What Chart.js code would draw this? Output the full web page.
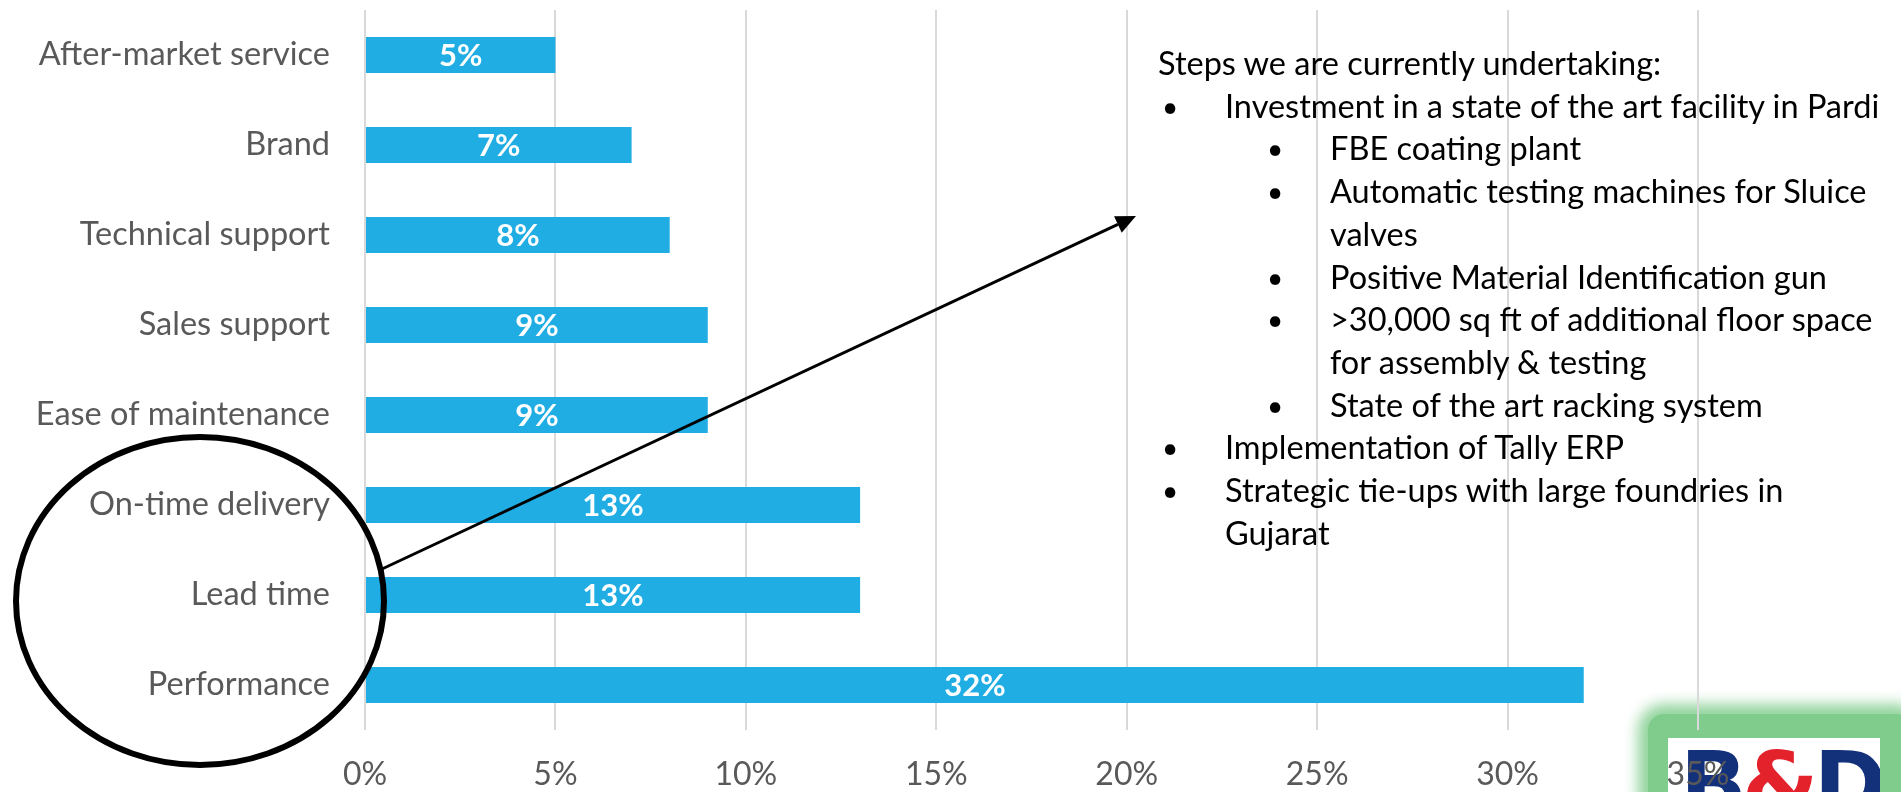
<!DOCTYPE html>
<html>
<head>
<meta charset="utf-8">
<script src="https://cdn.jsdelivr.net/npm/chart.js@4.4.1/dist/chart.umd.min.js"></script>
<style>
  html, body { margin: 0; padding: 0; background: #fff; width: 1901px; height: 792px; overflow: hidden; }
  #wrap { position: relative; width: 1901px; height: 792px; }
  #chart { position: absolute; left: 0; top: 0; z-index: 2; }
  #notes { position: absolute; left: 1158px; top: 42px; z-index: 3; font-family: Lato, "Open Sans", sans-serif;
           font-size: 32.5px; line-height: 42.7px; color: #000; white-space: nowrap; }
  #notes .l1, #notes .l2 { position: relative; }
  #notes .l1 { padding-left: 67px; }
  #notes .l2 { padding-left: 172px; }
  #notes .b { position: absolute; font-size: 28px; }
  #notes .l1 .b { left: 4px; }
  #notes .l2 .b { left: 109px; }
  #logo { position: absolute; left: 1648px; top: 714px; width: 264px; height: 100px; z-index: 1;
          background: #7fcc8c; box-shadow: 0 0 14px 10px rgba(127,204,140,0.85); border-radius: 16px; }
  #logo .inner { position: absolute; left: 20px; top: 24px; width: 212px; height: 80px; background: #fff; overflow: hidden; }
  #logo .txt { position: absolute; left: 12px; top: 2px; font-family: "DejaVu Sans", sans-serif; font-weight: 900;
               font-size: 88px; letter-spacing: -5px; color: #13307a; line-height: 1; }
  #logo .amp { color: #e4222b; }
</style>
</head>
<body>
<div id="wrap">
  <div id="logo"><div class="inner"><div class="txt">B<span class="amp">&amp;</span>D</div></div></div>
  <canvas id="chart" width="1901" height="792"></canvas>
  <div id="notes"></div>
</div>
<script>
// ---- data ----
const categories = ["After-market service", "Brand", "Technical support", "Sales support",
                    "Ease of maintenance", "On-time delivery", "Lead time", "Performance"];
const shareValues = [5, 7, 8, 9, 9, 13, 13, 32];
const xTickValues = [0, 5, 10, 15, 20, 25, 30, 35];
const noteTitle = "Steps we are currently undertaking:";
const noteItems = [
  [1, "Investment in a state of the art facility in Pardi"],
  [2, "FBE coating plant"],
  [2, "Automatic testing machines for Sluice<br>valves"],
  [2, "Positive Material Identification gun"],
  [2, "&gt;30,000 sq ft of additional floor space<br>for assembly &amp; testing"],
  [2, "State of the art racking system"],
  [1, "Implementation of Tally ERP"],
  [1, "Strategic tie-ups with large foundries in<br>Gujarat"]
];

// ---- notes text ----
const notes = document.getElementById('notes');
let html = '<div>' + noteTitle + '</div>';
for (const [lvl, txt] of noteItems) {
  html += '<div class="l' + lvl + '"><span class="b">\u2022</span>' + txt + '</div>';
}
notes.innerHTML = html;

const FONT = "Lato, 'Open Sans', sans-serif";

const valueLabels = {
  id: 'valueLabels',
  afterDatasetsDraw(chart) {
    const ctx = chart.ctx;
    const meta = chart.getDatasetMeta(0);
    ctx.save();
    ctx.fillStyle = '#ffffff';
    ctx.font = "bold 31px " + FONT;
    ctx.textAlign = 'center';
    ctx.textBaseline = 'middle';
    meta.data.forEach((bar, i) => {
      const cx = (bar.x + bar.base) / 2;
      ctx.fillText(shareValues[i] + '%', cx, bar.y + 1);
    });
    ctx.restore();
  }
};

const callout = {
  id: 'callout',
  afterDraw(chart) {
    const ctx = chart.ctx;
    ctx.save();
    // ellipse around the delivery / lead time labels
    ctx.strokeStyle = '#000';
    ctx.lineWidth = 6;
    ctx.beginPath();
    ctx.ellipse(200, 601, 184, 164, 0, 0, Math.PI * 2);
    ctx.stroke();
    // arrow
    const x0 = 382, y0 = 569, x1 = 1136, y1 = 216;
    const ang = Math.atan2(y1 - y0, x1 - x0);
    const hl = 20, hw = 9;
    ctx.lineWidth = 3;
    ctx.beginPath();
    ctx.moveTo(x0, y0);
    ctx.lineTo(x1 - hl * Math.cos(ang), y1 - hl * Math.sin(ang));
    ctx.stroke();
    ctx.fillStyle = '#000';
    ctx.beginPath();
    ctx.moveTo(x1, y1);
    ctx.lineTo(x1 - hl * Math.cos(ang) + hw * Math.sin(ang), y1 - hl * Math.sin(ang) - hw * Math.cos(ang));
    ctx.lineTo(x1 - hl * Math.cos(ang) - hw * Math.sin(ang), y1 - hl * Math.sin(ang) + hw * Math.cos(ang));
    ctx.closePath();
    ctx.fill();
    ctx.restore();
  }
};

new Chart(document.getElementById('chart'), {
  type: 'bar',
  data: {
    labels: categories,
    datasets: [{
      data: shareValues,
      backgroundColor: '#1fade3',
      borderWidth: 0,
      categoryPercentage: 0.8,
      barPercentage: 0.5
    }]
  },
  options: {
    indexAxis: 'y',
    responsive: false,
    animation: false,
    events: [],
    layout: { padding: { top: 10, right: 203, left: 0, bottom: 0 } },
    plugins: { legend: { display: false }, tooltip: { enabled: false } },
    scales: {
      x: {
        min: 0, max: 35,
        afterBuildTicks(scale) { scale.ticks = xTickValues.map(v => ({ value: v })); },
        afterFit(scale) { scale.height = 62; scale.paddingLeft = 0; scale.paddingRight = 0; },
        grid: { color: '#d9d9d9', lineWidth: 2, drawTicks: false },
        border: { display: false },
        ticks: {
          padding: 25,
          color: '#595959',
          font: { family: FONT, size: 32 },
          callback: v => v + '%'
        }
      },
      y: {
        afterFit(scale) { scale.width = 365; scale.paddingTop = 0; scale.paddingBottom = 0; },
        grid: { display: false, drawTicks: false },
        border: { display: false },
        ticks: {
          padding: 35,
          color: '#595959',
          font: { family: FONT, size: 32.5 }
        }
      }
    }
  },
  plugins: [valueLabels, callout]
});
</script>
</body>
</html>
